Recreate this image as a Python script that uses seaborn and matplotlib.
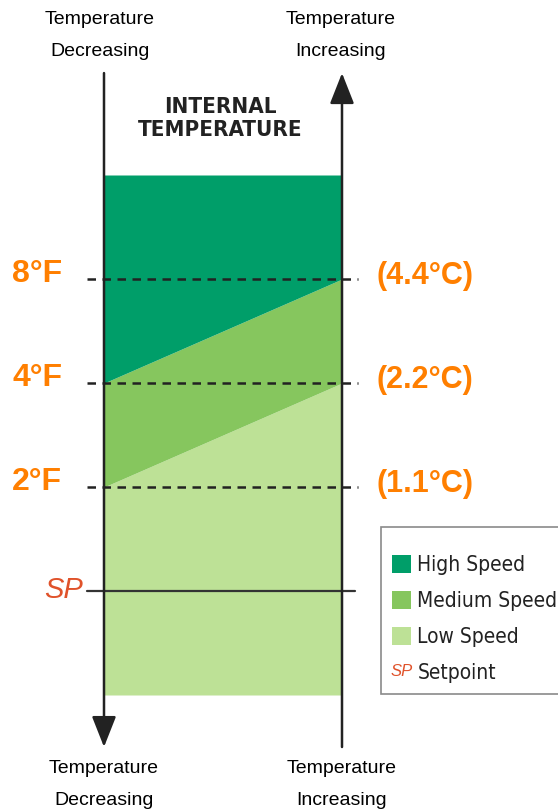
"""
Fan speed vs internal temperature diagram
High / medium / low speed bands above the setpoint
"""
import matplotlib
matplotlib.use("Agg")
import matplotlib.pyplot as plt
import matplotlib.text as mtext
from matplotlib.lines import Line2D
from matplotlib.patches import Patch
from matplotlib.legend_handler import HandlerBase
import seaborn as sns

# thresholds above setpoint (°F) and their °C equivalents
offsets_f = [2, 4, 8]
offsets_c = [1.1, 2.2, 4.4]
speed_names = ["High Speed", "Medium Speed", "Low Speed"]
speed_colors = ["#009e69", "#86c65e", "#bde196"]
setpoint_label = "SP"
axis_captions = [("Temperature", "Decreasing"), ("Temperature", "Increasing")]
title = "INTERNAL\nTEMPERATURE"

orange = "#ff7f00"
sp_red = "#e0522a"
ink = "#222222"

sns.set_theme(style="white")
plt.rcParams["font.family"] = ["Liberation Sans", "DejaVu Sans"]

fig = plt.figure(figsize=(5.58, 8.11), dpi=100)
ax = fig.add_axes([0, 0, 1, 1])
# x: 0 = decreasing axis, 1 = increasing axis; y: threshold rank (0 = setpoint)
ax.set_xlim(-104 / 238, 454 / 238)
ax.set_ylim(-220 / 104, 591 / 104)
ax.axis("off")

pos = {f: i + 1 for i, f in enumerate(offsets_f)}
bottom, top = -1, len(offsets_f) + 1

# speed bands, the middle ones slope up to the right
lo_edge = [pos[2], pos[4]]
hi_edge = [pos[4], pos[8]]
ax.fill_between([0, 1], [bottom, bottom], lo_edge, color=speed_colors[2], lw=0)
ax.fill_between([0, 1], lo_edge, hi_edge, color=speed_colors[1], lw=0)
ax.fill_between([0, 1], hi_edge, [top, top], color=speed_colors[0], lw=0)

# threshold lines and labels
for f, c in zip(offsets_f, offsets_c):
    y = pos[f]
    ax.plot([-0.071, 1.067], [y, y], color=ink, lw=1.8, ls=(0, (3.4, 2.6)))
    ax.text(-0.28, y + 0.05, f"{f}°F", color=orange, fontsize=23,
            fontweight="bold", ha="center", va="center")
    ax.text(1.349, y + 0.03, f"({c}°C)", color=orange, fontsize=22,
            fontweight="bold", ha="center", va="center")

# setpoint
ax.plot([-0.071, 1.055], [0, 0], color="#333333", lw=1.6)
ax.text(-0.172, 0.01, setpoint_label, color=sp_red, fontsize=21,
        style="italic", ha="center", va="center")

# direction arrows
arrow = dict(arrowstyle="-|>,head_length=1.9,head_width=0.75", color=ink,
             lw=1.8, mutation_scale=10, shrinkA=0, shrinkB=0)
ax.annotate("", xy=(0, -1.5), xytext=(0, 4.98), arrowprops=arrow)
ax.annotate("", xy=(1, 4.98), xytext=(1, -1.5), arrowprops=arrow)

# captions above and below each axis (two lines, 32 px apart)
for x, (l1, l2) in zip([-0.017, 0.996], axis_captions):
    ax.text(x, 5.50, l1, fontsize=14, ha="center", va="center", color="black")
    ax.text(x, 5.19, l2, fontsize=14, ha="center", va="center", color="black")
for x, (l1, l2) in zip([0.0, 1.0], axis_captions):
    ax.text(x, -1.71, l1, fontsize=14, ha="center", va="center", color="black")
    ax.text(x, -2.01, l2, fontsize=14, ha="center", va="center", color="black")

ax.text(0.49, 4.54, title, family="DejaVu Sans", fontstretch="condensed",
        fontsize=16, fontweight="bold", ha="center", va="center",
        color=ink, linespacing=1.2)


class SetpointHandler(HandlerBase):
    def create_artists(self, legend, orig_handle, xdescent, ydescent,
                       width, height, fontsize, trans):
        t = mtext.Text(width / 2 - xdescent, height / 2 - ydescent, setpoint_label,
                       ha="center", va="center", color=sp_red, style="italic",
                       fontsize=fontsize * 0.8, transform=trans)
        return [t]


handles = [Patch(facecolor=col, edgecolor="none", label=name)
           for name, col in zip(speed_names, speed_colors)]
sp_handle = Line2D([], [], label="Setpoint")
handles.append(sp_handle)

# blank title just adds a little extra space above the first entry
leg = ax.legend(handles=handles, loc="upper left", title=" ", title_fontsize=1,
                bbox_to_anchor=(381 / 558, 1 - 527 / 811),
                bbox_transform=fig.transFigure, borderaxespad=0,
                handler_map={sp_handle: SetpointHandler()},
                prop={"family": "DejaVu Sans", "stretch": "condensed", "size": 15},
                frameon=True, fancybox=False, framealpha=1,
                edgecolor="#8a8a8a", facecolor="white",
                handlelength=0.9, handleheight=0.95, handletextpad=0.3,
                labelspacing=0.75, borderpad=0.55)
leg.get_frame().set_linewidth(1.2)
for t in leg.get_texts():
    t.set_color(ink)

fig.savefig("out.png", dpi=100)
